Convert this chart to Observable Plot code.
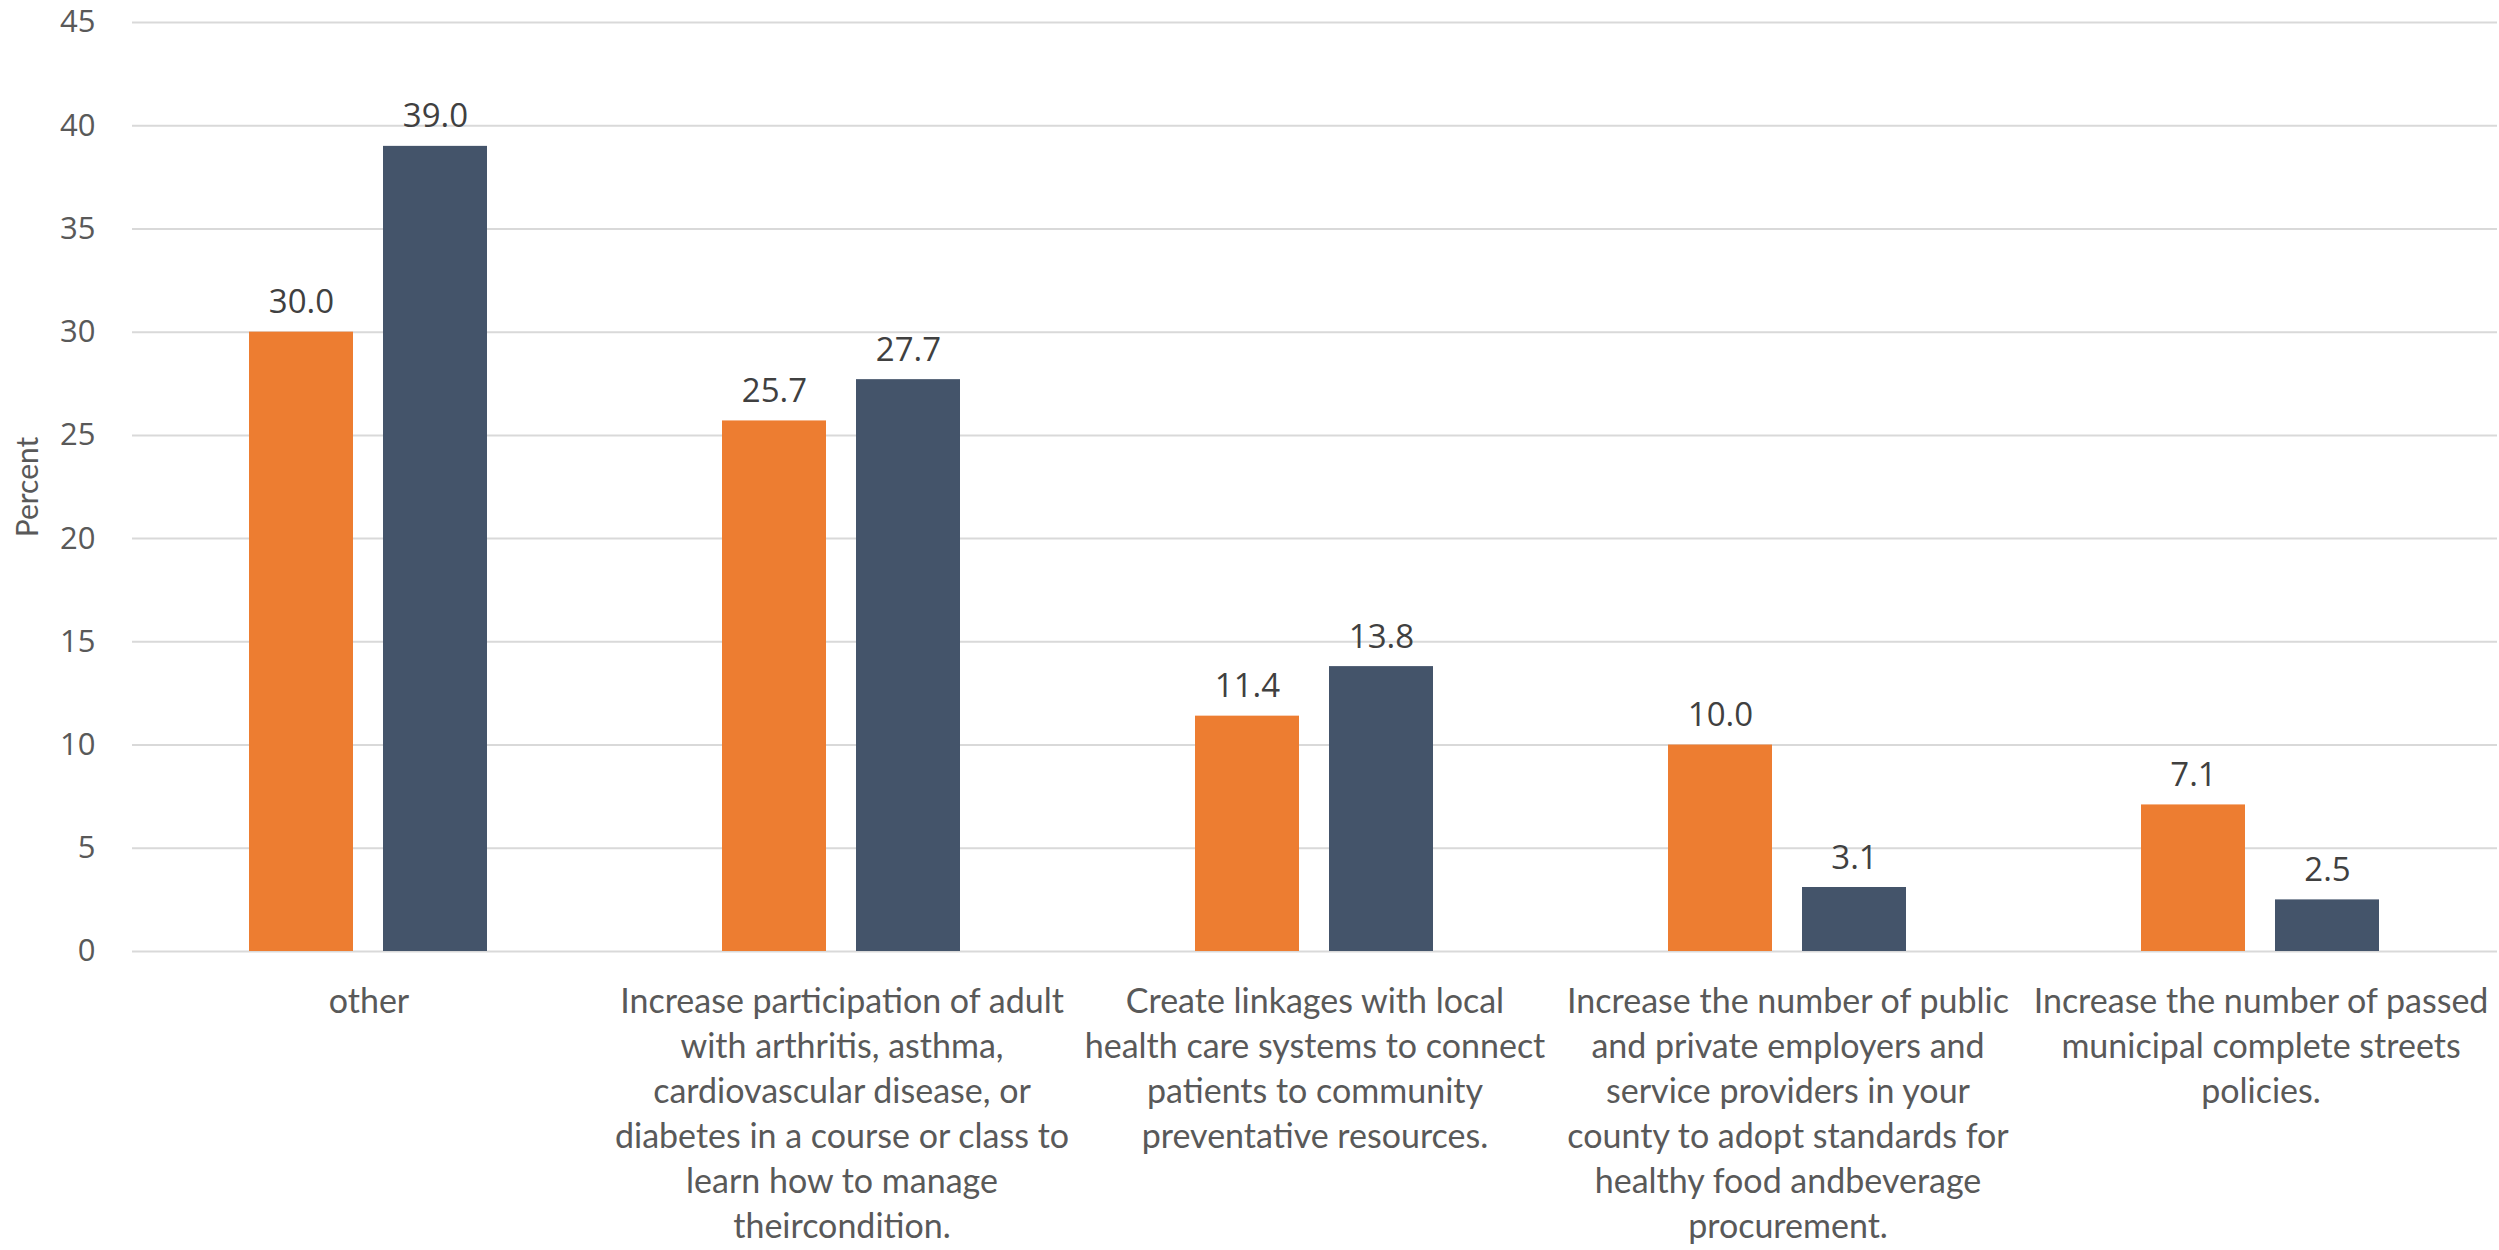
<!DOCTYPE html>
<html>
<head>
<meta charset="utf-8">
<script src="https://cdn.jsdelivr.net/npm/d3@7"></script>
<script src="https://cdn.jsdelivr.net/npm/@observablehq/plot@0.6"></script>
<style>
  html, body { margin: 0; padding: 0; background: #ffffff; }
  #chart svg { display: block; }
</style>
</head>
<body>
<div id="chart"></div>
<script>
// ---- data ----
const categories = [
  "other",
  "Increase participation of adult with arthritis, asthma, cardiovascular disease, or diabetes in a course or class to learn how to manage theircondition.",
  "Create linkages with local health care systems to connect patients to community preventative resources.",
  "Increase the number of public and private employers and service providers in your county to adopt standards for healthy food andbeverage procurement.",
  "Increase the number of passed municipal complete streets policies."
];
const categoryLines = [
  ["other"],
  ["Increase participation of adult", "with arthritis, asthma,", "cardiovascular disease, or", "diabetes in a course or class to", "learn how to manage", "theircondition."],
  ["Create linkages with local", "health care systems to connect", "patients to community", "preventative resources."],
  ["Increase the number of public", "and private employers and", "service providers in your", "county to adopt standards for", "healthy food andbeverage", "procurement."],
  ["Increase the number of passed", "municipal complete streets", "policies."]
];
const seriesNames = ["Series 1", "Series 2"];
const series1Values = [30.0, 25.7, 11.4, 10.0, 7.1];
const series2Values = [39.0, 27.7, 13.8, 3.1, 2.5];
const yTicks = [0, 5, 10, 15, 20, 25, 30, 35, 40, 45];
const yLabel = "Percent";

// ---- table ----
const rows = categories.flatMap((c, i) => [
  {category: c, series: seriesNames[0], value: series1Values[i]},
  {category: c, series: seriesNames[1], value: series2Values[i]}
]);
const lineMap = new Map(categories.map((c, i) => [c, categoryLines[i].join("\n")]));

const narrow = "Lato, sans-serif";

const chart = Plot.plot({
  width: 2499,
  height: 1250,
  marginTop: 22,
  marginBottom: 299,
  marginLeft: 130,
  marginRight: 0,
  style: {fontFamily: "'Open Sans', sans-serif", color: "#595959", background: "#ffffff"},
  fx: {domain: categories, padding: 0, label: null},
  x: {domain: seriesNames, paddingInner: 0.222, paddingOuter: 0.867, axis: null},
  y: {domain: [0, 45]},
  color: {domain: seriesNames, range: ["#ED7D31", "#44546A"]},
  marks: [
    Plot.ruleY(yTicks, {stroke: "#d9d9d9", strokeWidth: 2}),
    Plot.barY(rows, {fx: "category", x: "series", y: "value", fill: "series"}),
    Plot.text(rows, {
      fx: "category", x: "series", y: "value",
      text: d => d.value.toFixed(1),
      lineAnchor: "bottom", dy: -19,
      fontSize: 33, fill: "#404040"
    }),
    Plot.axisY({
      ticks: yTicks, tickSize: 0, tickPadding: 37, fontSize: 31,
      label: null, fill: "#595959"
    }),
    Plot.axisY({
      ticks: [], tickSize: 0, label: yLabel, labelAnchor: "center", labelArrow: "none",
      labelOffset: 116, fontSize: 30, fontFamily: narrow, fill: "#595959"
    }),
    Plot.axisFx({
      anchor: "bottom",
      tickSize: 0, tickPadding: 30,
      tickFormat: c => lineMap.get(c),
      fontSize: 34, lineHeight: 1.32, fontFamily: narrow,
      label: null, fill: "#595959", lineAnchor: "top"
    })
  ]
});

document.getElementById("chart").appendChild(chart);
</script>
</body>
</html>
